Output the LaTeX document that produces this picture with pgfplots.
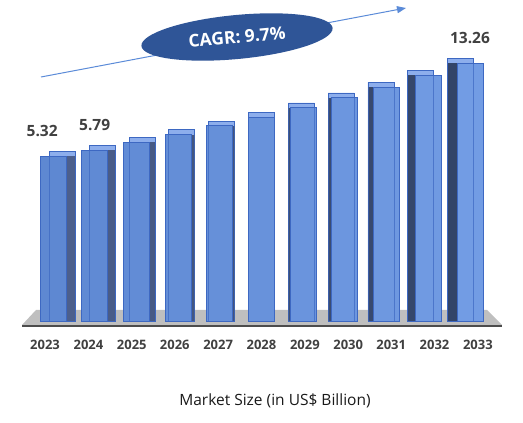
\documentclass[border=0pt]{standalone}
\usepackage{pgfplots}
\pgfplotsset{compat=1.18}
\usepackage{pgfplotstable}
\usepackage{fontspec}
\setmainfont{Open Sans}
\usetikzlibrary{arrows.meta}

\definecolor{frontA}{HTML}{5E88D2}
\definecolor{frontB}{HTML}{729CE4}
\definecolor{sideA}{HTML}{4C5F8C}
\definecolor{sideB}{HTML}{324468}
\definecolor{edgeblue}{HTML}{3D68C2}
\definecolor{topblue}{HTML}{8DAEEC}
\definecolor{floorgray}{HTML}{BFBFBF}
\definecolor{labgray}{HTML}{404040}
\definecolor{ellblue}{HTML}{2F5597}
\definecolor{arrowblue}{HTML}{5B8BD8}

\pgfplotstableread{
i year v
0 2023 5.32
1 2024 5.79
2 2025 6.50
3 2026 7.15
4 2027 7.90
5 2028 8.65
6 2029 9.45
7 2030 10.30
8 2031 11.20
9 2032 12.20
10 2033 13.26
}\marketdata

\pgfplotstableread{
x v lab
-0.26 5.32 5.32
1 5.79 5.79
10 13.26 13.26
}\labeldata

\begin{document}
\begin{tikzpicture}
\path[use as bounding box] (0,0) rectangle (523pt,423pt);
% floor
\fill[floorgray] (22pt,98pt) -- (36pt,113pt) -- (487pt,113pt) -- (502pt,98pt) -- cycle;
\draw[black!70, line width=1.5pt] (22pt,97pt) -- (502pt,97pt);
% CAGR arrow and ellipse
\draw[arrowblue, line width=1pt, -{Triangle[length=9pt,width=7pt]}] (41pt,346pt) -- (406pt,415pt);
\fill[ellblue, rotate around={5.4:(237pt,386pt)}] (237pt,386pt) ellipse [x radius=96pt, y radius=22pt];
\node[rotate=5.4, text=white, font=\bfseries\fontsize{17.5}{20}\selectfont] at (237pt,386pt) {CAGR: 9.7\%};
% bottom caption
\node[font=\fontsize{15.5}{18}\selectfont, text=black!90] at (275pt,22pt) {Market Size (in US\$ Billion)};
\begin{axis}[
  at={(22pt,102pt)}, anchor=south west,
  scale only axis, width=478pt, height=301pt,
  xmin=-0.743, xmax=10.72, ymin=0, ymax=25.70,
  axis line style={draw=none},
  tick style={draw=none},
  ytick=\empty,
  xtick={-0.19,0.85,1.89,2.92,3.96,5,6.04,7.08,8.11,9.15,10.19},
  xticklabels={2023,2024,2025,2026,2027,2028,2029,2030,2031,2032,2033},
  xticklabel style={anchor=center, yshift=-24pt, text=labgray, font=\bfseries\fontsize{13}{15}\selectfont},
  y filter/.expression={y+8.77},
  clip=false,
]
% back (top face)
\addplot[ybar, bar width=26pt, bar shift=0pt, fill=topblue, draw=edgeblue, line width=0.8pt,
  x filter/.expression={x+(5-x)*0.045}, y filter/.expression={y+8.77+0.4}]
  table[x=i, y=v] {\marketdata};
% side faces
\pgfplotsinvokeforeach{0,...,10}{
\addplot[ybar, bar width=26pt, bar shift=0pt, fill=sideB!#10!sideA, draw=none,
  x filter/.expression={abs(x-#1)<0.4 ? x+(5-x)*0.045 : nan}]
  table[x=i, y=v] {\marketdata};
}
% front faces
\pgfplotsinvokeforeach{0,...,10}{
\addplot[ybar, bar width=26pt, bar shift=0pt, fill=frontB!#10!frontA, draw=edgeblue, line width=0.8pt,
  x filter/.expression={abs(x-#1)<0.4 ? x : nan}]
  table[x=i, y=v] {\marketdata};
}
% back edges seen through the front face
\addplot[ybar, bar width=26pt, bar shift=0pt, fill=none, draw=edgeblue, draw opacity=0.7, line width=0.8pt,
  x filter/.expression={x+(5-x)*0.045}, y filter/.expression={y+8.77+0.4}]
  table[x=i, y=v] {\marketdata};
% value labels
\addplot[draw=none, mark=none, nodes near coords, point meta=explicit symbolic,
  nodes near coords style={anchor=center, yshift=25pt, text=labgray, font=\bfseries\fontsize{15.5}{18}\selectfont}]
  table[x=x, y=v, meta=lab] {\labeldata};
\end{axis}
\end{tikzpicture}
\end{document}
